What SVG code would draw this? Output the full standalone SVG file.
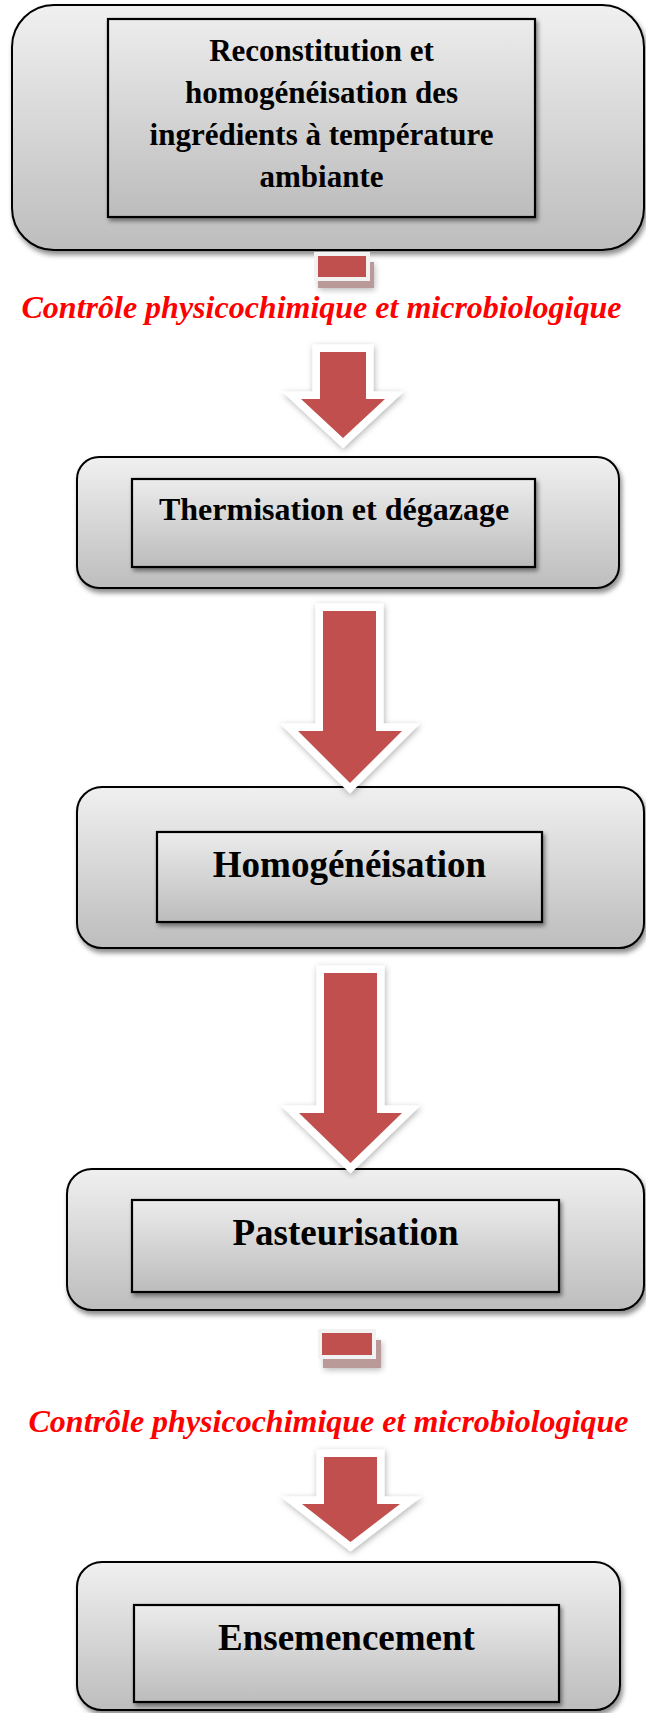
<svg xmlns="http://www.w3.org/2000/svg" width="646" height="1713" viewBox="0 0 646 1713">
<style>
.outer{fill:url(#g);stroke:#000;stroke-width:2;filter:url(#sh)}
.inner{fill:url(#g2);stroke:#000;stroke-width:2.2;filter:url(#sh2)}
.t{font-family:"Liberation Serif","Times New Roman",serif;font-weight:bold;fill:#000;text-anchor:middle}
.xs{font-size:31px}
.s{font-size:32px}
.l{font-size:37px}
.red{font-family:"Liberation Serif","Times New Roman",serif;font-weight:bold;font-style:italic;font-size:32px;fill:#ff0000;text-anchor:middle}
.arr{fill:#c0504d;stroke:#fff;stroke-width:15;stroke-linejoin:miter;stroke-miterlimit:10;paint-order:stroke}
.sq{fill:#c0504d;stroke:#f2f2f2;stroke-width:8;paint-order:stroke}
</style>
<defs>
<linearGradient id="g" x1="0" y1="0" x2="0" y2="1">
<stop offset="0" stop-color="#f0f0f0"/>
<stop offset="1" stop-color="#bdbdbd"/>
</linearGradient>
<linearGradient id="g2" x1="0" y1="0" x2="0" y2="1">
<stop offset="0" stop-color="#ececec"/>
<stop offset="1" stop-color="#bcbcbc"/>
</linearGradient>
<filter id="sh" x="-10%" y="-10%" width="120%" height="130%">
<feDropShadow dx="2" dy="4" stdDeviation="2.5" flood-color="#000" flood-opacity="0.45"/>
</filter>
<filter id="sh2" x="-10%" y="-10%" width="120%" height="130%">
<feDropShadow dx="2" dy="3" stdDeviation="2" flood-color="#000" flood-opacity="0.45"/>
</filter>
<filter id="ash" x="-30%" y="-30%" width="160%" height="160%">
<feDropShadow dx="1" dy="2" stdDeviation="3" flood-color="#000" flood-opacity="0.3"/>
</filter>
</defs>

<g id="node1">
<rect class="outer" x="12" y="5" width="632" height="245" rx="42" ry="42"/>
<rect class="inner" x="108" y="19" width="427" height="198"/>
<text class="t xs" x="321.5" y="61">Reconstitution et</text>
<text class="t xs" x="321.5" y="103">homogénéisation des</text>
<text class="t xs" x="321.5" y="145">ingrédients à température</text>
<text class="t xs" x="321.5" y="187">ambiante</text>
</g>

<g id="node2">
<rect class="outer" x="77" y="457" width="542" height="131" rx="22" ry="22"/>
<rect class="inner" x="132" y="479" width="403" height="88"/>
<text class="t s" x="334" y="520">Thermisation et dégazage</text>
</g>

<g id="node3">
<rect class="outer" x="77" y="787" width="567" height="161" rx="25" ry="25"/>
<rect class="inner" x="157" y="832" width="385" height="90"/>
<text class="t l" x="349.5" y="877">Homogénéisation</text>
</g>

<g id="node4">
<rect class="outer" x="67" y="1169" width="577" height="141" rx="25" ry="25"/>
<rect class="inner" x="132" y="1200" width="427" height="92"/>
<text class="t l" x="345.5" y="1245">Pasteurisation</text>
</g>

<g id="node5">
<rect class="outer" x="77" y="1562" width="543" height="148" rx="25" ry="25"/>
<rect class="inner" x="134" y="1605" width="425" height="97"/>
<text class="t l" x="346.5" y="1650">Ensemencement</text>
</g>

<g id="labels">
<text class="red" x="321.5" y="318">Contrôle physicochimique et microbiologique</text>
<text class="red" x="328.5" y="1432">Contrôle physicochimique et microbiologique</text>
</g>

<g id="connectors">
<g>
<rect x="318" y="262" width="56" height="26" fill="#b38e8e" opacity="0.9" filter="url(#ash)"/>
<rect class="sq" x="318" y="256" width="48" height="21"/>
</g>
<g>
<rect x="323" y="1340" width="58" height="28" fill="#b38e8e" opacity="0.9" filter="url(#ash)"/>
<rect class="sq" x="322" y="1333" width="50" height="22"/>
</g>
<g filter="url(#ash)">
<polygon class="arr" points="320,352 366,352 366,399 385,399 343,438 301,399 320,399"/>
<polygon class="arr" points="323,611 376,611 376,731 402,731 350,783 298,731 323,731"/>
<polygon class="arr" points="324,973 377,973 377,1113 402,1113 350.5,1163 299,1113 324,1113"/>
<polygon class="arr" points="324,1457 377,1457 377,1504 400,1504 350.5,1542 302,1504 324,1504"/>
</g>
</g>
</svg>
